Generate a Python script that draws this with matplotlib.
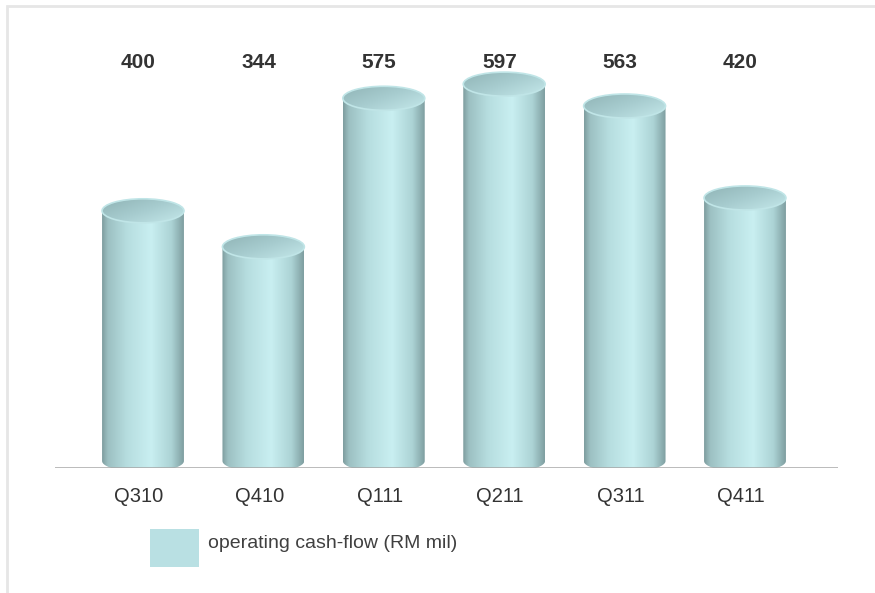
"""
Quarterly operating cash-flow drawn as shaded cylinders
"""

import numpy as np
import matplotlib
matplotlib.use("Agg")
import matplotlib.pyplot as plt
from matplotlib.colors import LinearSegmentedColormap
from matplotlib.patches import Ellipse, PathPatch, Rectangle
from matplotlib.path import Path

quarters = ["Q310", "Q410", "Q111", "Q211", "Q311", "Q411"]
cash_flow = [400, 344, 575, 597, 563, 420]
series_name = "operating cash-flow (RM mil)"

plt.rcParams["font.family"] = ["Liberation Sans", "DejaVu Sans"]

W, H = 875, 593
fig = plt.figure(figsize=(W / 100, H / 100), dpi=100)

# axes box in pixels: x 55..838, baseline at y=468, top at y=10
px_left, px_right, px_base, px_top = 55, 838, 468, 10
ax = fig.add_axes([px_left / W, (H - px_base) / H,
                   (px_right - px_left) / W, (px_base - px_top) / H])
px_per_val = 0.643
px_per_cat = 120.4
xmin = -(143 - px_left) / px_per_cat
ax.set_xlim(xmin, xmin + (px_right - px_left) / px_per_cat)
ax.set_ylim(0, (px_base - px_top) / px_per_val)
ax.axis("off")

body_cmap = LinearSegmentedColormap.from_list("body", [
    (0.00, "#7f9ea0"), (0.07, "#9cc0c2"), (0.30, "#b6dddf"),
    (0.60, "#c9eff1"), (0.85, "#acd3d5"), (0.96, "#8badaf"), (1.00, "#809fa1")])
top_cmap = LinearSegmentedColormap.from_list("top", ["#90b4b6", "#a7cccf", "#c4e8ea"])

bar_w = 0.68
eh = 12 / px_per_val       # half height of the top ellipse
bh = 11 / px_per_val       # half height of the bottom ellipse
b0 = 7 / px_per_val        # bottom ellipse centre above the baseline

for i, v in enumerate(cash_flow):
    x0, x1 = i - bar_w / 2, i + bar_w / 2
    # body outline: left side, bottom half-ellipse, right side
    t = np.linspace(np.pi, 2 * np.pi, 60)
    arc = np.column_stack([i + bar_w / 2 * np.cos(t), b0 + bh * np.sin(t)])
    verts = np.vstack([[x0, v], arc, [x1, v], [x0, v]])
    body = PathPatch(Path(verts), facecolor="none", edgecolor="none")
    ax.add_patch(body)
    grad = body_cmap(np.linspace(0, 1, 200))[None, :, :3]
    im = ax.imshow(grad, extent=(x0, x1, b0 - bh, v), aspect="auto",
                   interpolation="bilinear", zorder=2)
    im.set_clip_path(body)

    # top cap with a diagonal shading and a lighter rim
    cap = Ellipse((i, v), bar_w, 2 * eh, facecolor="none",
                  edgecolor="#c0e5e7", lw=1.2, zorder=4)
    ax.add_patch(cap)
    gx, gy = np.meshgrid(np.linspace(0, 1, 60), np.linspace(0, 1, 30))
    shade = top_cmap(np.clip(0.55 * gx + 0.45 * gy, 0, 1))[:, :, :3]
    im2 = ax.imshow(shade, extent=(x0, x1, v - eh, v + eh), aspect="auto",
                    origin="upper", interpolation="bilinear", zorder=3)
    im2.set_clip_path(cap)

    ax.text(i - 0.04, (px_base - 62) / (px_base - px_top), f"{v}",
            transform=ax.get_xaxis_transform(), ha="center", va="center",
            fontsize=15, fontweight="bold", color="#333333")
    ax.text(i - 0.035, -(496 - px_base) / (px_base - px_top), quarters[i],
            transform=ax.get_xaxis_transform(), ha="center", va="center",
            fontsize=14.5, color="#333333", clip_on=False)

ax.axhline(0, color="#a6a6a6", lw=1.8, zorder=5)
ax.set_xlim(xmin, xmin + (px_right - px_left) / px_per_cat)

# legend swatch and label
fig.patches.append(Rectangle((150 / W, (H - 567) / H), 49 / W, 38 / H,
                             transform=fig.transFigure, facecolor="#b9e0e3",
                             edgecolor="none"))
fig.text(208 / W, (H - 544) / H, series_name, ha="left", va="center",
         fontsize=14, color="#404040")

# light frame open to the right and bottom
fig.patches.append(Rectangle((7 / W, -0.2), 1.2, (H - 6) / H + 0.2,
                             transform=fig.transFigure, facecolor="none",
                             edgecolor="#e6e6e6", lw=2))

fig.savefig("out.png", dpi=100)
